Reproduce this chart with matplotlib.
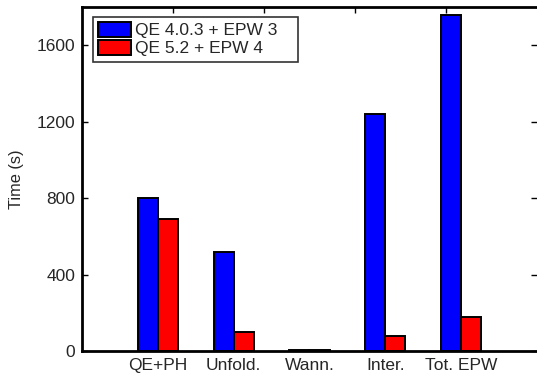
import numpy as np
from matplotlib import pyplot as plt

plt.rcParams['font.family'] = ['Liberation Sans', 'DejaVu Sans']
plt.rcParams['text.color'] = '#262626'
plt.rcParams['axes.labelcolor'] = '#262626'
plt.rcParams['xtick.labelcolor'] = '#262626'
plt.rcParams['ytick.labelcolor'] = '#262626'

# --- data (seconds) ---
steps = ['QE+PH', 'Unfold.', 'Wann.', 'Inter.', 'Tot. EPW']
time_old = [800, 520, 6, 1240, 1760]   # QE 4.0.3 + EPW 3
time_new = [690, 100, 4, 80, 180]      # QE 5.2 + EPW 4
labels = ['QE 4.0.3 + EPW 3', 'QE 5.2 + EPW 4']
y_ticks = [0, 400, 800, 1200, 1600]

fig = plt.figure(figsize=(5.37, 3.79), dpi=100)
ax = fig.add_axes([0.1527, 0.0739, 0.8473, 0.9076])

x = np.arange(1, len(steps) + 1)
w = 0.265
ax.bar(x - w / 2, time_old, w, color='#0000ff', edgecolor='black',
       linewidth=1.4, label=labels[0])
ax.bar(x + w / 2, time_new, w, color='#ff0000', edgecolor='black',
       linewidth=1.4, label=labels[1])

ax.set_xlim(0, 6)
ax.set_ylim(0, 1800)
ax.set_xticks(x)
ax.set_xticklabels(steps)
ax.set_yticks(y_ticks)
ax.set_ylabel('Time (s)', fontsize=11.8, labelpad=9)

for side in ['left', 'bottom', 'top']:
    ax.spines[side].set_linewidth(2)
ax.spines['right'].set_visible(False)
ax.tick_params(direction='in', length=4, width=1, labelsize=12.5, right=True)
ax.tick_params(axis='x', length=0, pad=5)
ax.tick_params(axis='y', pad=5)

# top axis keeps its own 0..1 scale ticks, no labels
top = ax.secondary_xaxis('top', functions=(lambda v: v / 6, lambda v: v * 6))
top.set_xticks([0.2, 0.4, 0.6, 0.8])
top.tick_params(direction='in', length=4, width=1, labeltop=False)
top.spines['top'].set_visible(False)

leg = ax.legend(loc='upper left', bbox_to_anchor=(0.024, 0.5, 0.45, 0.471),
                mode='expand', fontsize=12.5,
                fancybox=False, framealpha=1, edgecolor='#333333',
                borderpad=0.3, handlelength=1.9, handleheight=0.9,
                handletextpad=0.25, labelspacing=0.1, borderaxespad=0)
leg.get_frame().set_linewidth(1.2)

plt.savefig('out.png', dpi=100)
